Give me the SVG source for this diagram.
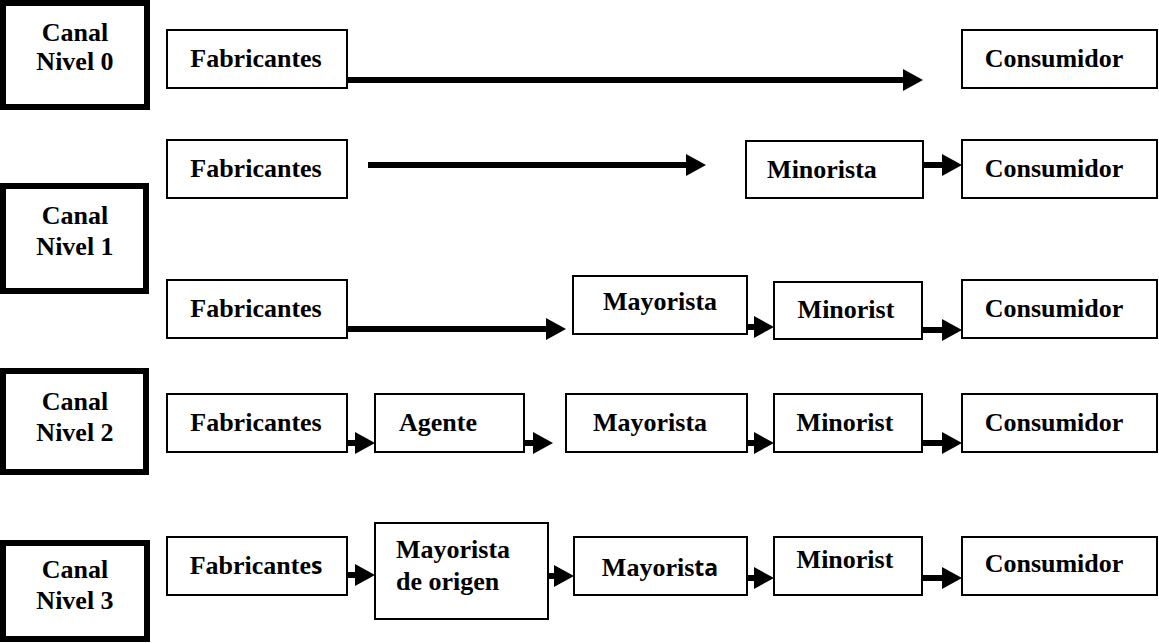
<svg xmlns="http://www.w3.org/2000/svg" width="1159" height="643" viewBox="0 0 1159 643">
  <style>
    .bg { fill: #ffffff; }
    .canal { fill: #ffffff; stroke: #000000; stroke-width: 6; }
    .box { fill: #ffffff; stroke: #000000; stroke-width: 2; }
    .t { font-family: "Liberation Serif", "Times New Roman", serif; font-weight: bold; font-size: 26px; fill: #000000; text-anchor: middle; }
    .l { text-anchor: start; }
    .sans { font-family: "Open Sans", "Liberation Sans", sans-serif; font-size: 23px; }
    .conn { stroke: #000000; stroke-width: 6; fill: none; marker-end: url(#head); }
  </style>
  <defs>
    <marker id="head" markerUnits="userSpaceOnUse" markerWidth="20" markerHeight="22" refX="10" refY="11" orient="auto">
      <path d="M0,0 L20,11 L0,22 Z" fill="#000000"/>
    </marker>
  </defs>
  <rect class="bg" x="0" y="0" width="1159" height="643"/>

  <!-- channel level labels -->
  <g id="canal0"><rect class="canal" x="3" y="3" width="144" height="104"/><text class="t" x="75" y="41">Canal</text><text class="t" x="75" y="70">Nivel 0</text></g>
  <g id="canal1"><rect class="canal" x="3" y="186" width="143" height="105"/><text class="t" x="75" y="224">Canal</text><text class="t" x="75" y="255">Nivel 1</text></g>
  <g id="canal2"><rect class="canal" x="3" y="371" width="143" height="101"/><text class="t" x="75" y="410">Canal</text><text class="t" x="75" y="441">Nivel 2</text></g>
  <g id="canal3"><rect class="canal" x="3" y="543" width="144" height="96"/><text class="t" x="75" y="578">Canal</text><text class="t" x="75" y="609">Nivel 3</text></g>

  <!-- level 0 -->
  <g id="n0-fab"><rect class="box" x="167" y="30" width="180" height="58"/><text class="t" x="256" y="67">Fabricantes</text></g>
  <g id="n0-con"><rect class="box" x="962" y="30" width="195" height="58"/><text class="t" x="1054" y="67">Consumidor</text></g>

  <!-- level 1, direct retailer -->
  <g id="n1a-fab"><rect class="box" x="167" y="140" width="180" height="58"/><text class="t" x="256" y="177">Fabricantes</text></g>
  <g id="n1a-min"><rect class="box" x="746" y="141" width="177" height="57"/><text class="t" x="822" y="178">Minorista</text></g>
  <g id="n1a-con"><rect class="box" x="962" y="140" width="195" height="58"/><text class="t" x="1054" y="177">Consumidor</text></g>

  <!-- level 1, via wholesaler -->
  <g id="n1b-fab"><rect class="box" x="167" y="280" width="180" height="58"/><text class="t" x="256" y="317">Fabricantes</text></g>
  <g id="n1b-may"><rect class="box" x="573" y="276" width="174" height="58"/><text class="t" x="660" y="310">Mayorista</text></g>
  <g id="n1b-min"><rect class="box" x="774" y="282" width="148" height="57"/><text class="t" x="846" y="318">Minorist</text></g>
  <g id="n1b-con"><rect class="box" x="962" y="280" width="195" height="58"/><text class="t" x="1054" y="317">Consumidor</text></g>

  <!-- level 2 -->
  <g id="n2-fab"><rect class="box" x="167" y="394" width="180" height="58"/><text class="t" x="256" y="431">Fabricantes</text></g>
  <g id="n2-age"><rect class="box" x="375" y="394" width="149" height="58"/><text class="t" x="438" y="431">Agente</text></g>
  <g id="n2-may"><rect class="box" x="566" y="394" width="181" height="58"/><text class="t" x="650" y="431">Mayorista</text></g>
  <g id="n2-min"><rect class="box" x="774" y="394" width="148" height="58"/><text class="t" x="845" y="431">Minorist</text></g>
  <g id="n2-con"><rect class="box" x="962" y="394" width="195" height="58"/><text class="t" x="1054" y="431">Consumidor</text></g>

  <!-- level 3 -->
  <g id="n3-fab"><rect class="box" x="167" y="537" width="180" height="58"/><text class="t" x="256" y="574">Fabricante<tspan class="sans">s</tspan></text></g>
  <g id="n3-mdo"><rect class="box" x="375" y="523" width="173" height="96"/><text class="t l" x="396" y="558">Mayorista</text><text class="t l" x="396" y="590">de origen</text></g>
  <g id="n3-may"><rect class="box" x="574" y="537" width="173" height="58"/><text class="t" x="660" y="576">Mayoris<tspan class="sans">ta</tspan></text></g>
  <g id="n3-min"><rect class="box" x="774" y="537" width="148" height="58"/><text class="t" x="845" y="568">Minorist</text></g>
  <g id="n3-con"><rect class="box" x="962" y="537" width="195" height="58"/><text class="t" x="1054" y="572">Consumidor</text></g>

  <!-- connectors -->
  <g id="connectors">
    <line class="conn" x1="347" y1="80" x2="913" y2="80"/>

    <line class="conn" x1="368" y1="165" x2="696" y2="165"/>
    <line class="conn" x1="923" y1="165" x2="952" y2="165"/>

    <line class="conn" x1="347" y1="329" x2="556" y2="329"/>
    <line class="conn" x1="747" y1="327" x2="764" y2="327"/>
    <line class="conn" x1="922" y1="330" x2="952" y2="330"/>

    <line class="conn" x1="347" y1="443" x2="365" y2="443"/>
    <line class="conn" x1="524" y1="443" x2="543" y2="443"/>
    <line class="conn" x1="747" y1="443" x2="764" y2="443"/>
    <line class="conn" x1="922" y1="443" x2="952" y2="443"/>

    <line class="conn" x1="347" y1="575" x2="365" y2="575"/>
    <line class="conn" x1="548" y1="576" x2="564" y2="576"/>
    <line class="conn" x1="747" y1="578" x2="764" y2="578"/>
    <line class="conn" x1="922" y1="578" x2="952" y2="578"/>
  </g>
</svg>
